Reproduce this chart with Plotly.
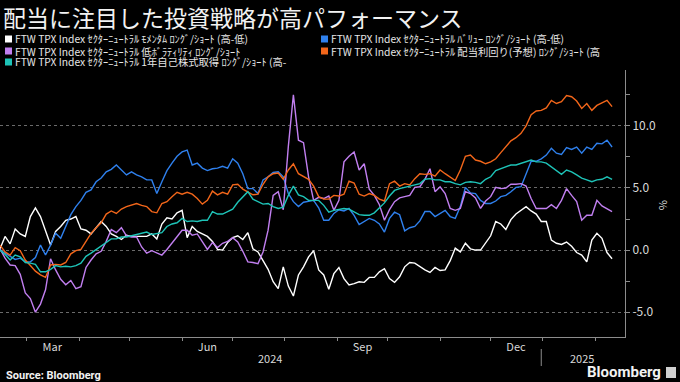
import plotly.graph_objects as go
import pandas as pd

# ---- data (values in %, sampled every 3 days from 2024-02-14) ----
start_date = "2024-02-14"
n_points = 122

momentum = [
    0.1, 1.1, 0.5, 1.7, 1.3, 1.1, 2.7, 3.4, 2.7, 1.6,
    0.4, 1.5, 1.9, 2.4, 2.5, 2.7, 1.7, 1.6, 1.3, 1.8,
    2.3, 1.9, 1.3, 1.1, 0.85, 1.2, 1.1, 1.1, 1.1, 1.1,
    1.3, 0.9, 2.1, 2.6, 2.5, 3.0, 3.2, 1.0, 1.9, 1.5,
    1.3, 1.1, 0.7, 0.05, 0.0, 0.6, 1.0, 1.15, 0.85, 1.4,
    0.1, -0.15, -0.85, -1.55, -2.55, -3.1, -1.35, -2.9, -3.7, -2.0,
    -1.35, -0.55, -0.05, -1.6, -2.0, -3.15, -1.9, -1.4, -2.3, -2.8,
    -2.7, -2.55, -2.6, -2.2, -2.2, -1.75, -1.5, -2.3, -2.6, -2.15,
    -1.35, -1.0, -1.05, -1.35, -1.6, -1.8, -1.4, -1.65, -1.6, -0.85,
    0.15, -0.15, 0.55, 0.1, 0.0, 0.0, 0.6, 1.15, 2.3, 2.1,
    1.65, 2.45, 2.9, 3.2, 3.5, 3.15, 2.9, 2.3, 2.3, 0.8,
    0.55, 0.45, 0.65, 0.3, -0.2, -0.4, -0.95, 0.8, 1.35, 0.95,
    -0.2, -0.7,
]

value = [
    0.0, -0.25, -0.55, -0.75, -0.65, -0.95, -0.95, -0.6, 0.4, -0.4,
    0.4, 1.35, 0.95, 1.9, 2.85, 3.5, 4.0, 4.65, 4.85, 5.5,
    5.8, 6.3, 6.5, 6.85, 6.45, 6.05, 6.3, 6.05, 5.9, 5.65,
    5.65, 4.55, 5.5, 6.4, 7.0, 7.55, 7.9, 8.05, 6.85, 7.0,
    6.6, 6.4, 6.55, 6.6, 6.75, 6.6, 7.35, 7.0, 6.15, 4.95,
    4.95, 4.55, 5.65, 5.9, 6.25, 6.3, 5.9, 4.55, 3.9, 3.5,
    3.85, 3.9, 4.0, 3.4, 2.4, 2.4, 2.95, 3.25, 3.15, 3.35,
    2.8, 2.05, 2.3, 2.55, 2.4, 2.1, 1.45, 2.55, 3.05, 2.85,
    1.55, 1.8, 1.9, 2.35, 3.1, 3.1, 2.7, 2.95, 3.2, 2.7,
    2.55, 3.5, 5.05, 4.6, 4.55, 4.0, 3.75, 3.75, 3.95, 4.3,
    4.4, 4.7, 5.05, 5.1, 6.15, 7.15, 7.15, 7.35, 7.65, 8.2,
    7.8, 7.7, 8.25, 8.1, 8.3, 7.8, 8.3, 8.1, 8.6, 8.55,
    8.85, 8.3,
]

low_vol = [
    0.1, -0.65, -1.2, -1.25, -1.95, -3.45, -3.9, -5.0, -4.35, -3.2,
    -0.7, -1.6, -2.35, -2.8, -2.45, -3.1, -2.95, -1.4, -0.8, -0.3,
    -0.1, 0.7, 1.65, 1.4, 1.8, 1.15, 1.05, 1.05, 0.25, -0.25,
    -0.05, -0.25, -0.4, 0.05, 0.55, 1.1, 1.6, 1.6, 1.2, 1.3,
    0.65, 0.05, 0.6, 0.2, 0.55, 0.7, 1.0, 0.65, -0.1, -0.95,
    -1.0, -1.1, -0.15, 1.6, 4.4, 4.7, 3.25, 8.35, 12.5, 8.85,
    8.65, 5.9, 4.0, 4.25, 4.15, 4.35, 3.2, 4.0, 7.1, 7.55,
    7.9, 6.45, 6.95, 4.9, 4.4, 3.65, 2.4, 3.25, 3.9, 4.2,
    4.3, 4.4, 5.05, 5.1, 5.7, 6.55, 4.7, 5.1, 4.55, 3.35,
    3.2, 3.35, 4.7, 4.55, 4.2, 3.35, 3.95, 4.3, 5.05, 4.95,
    5.0, 5.3, 5.3, 5.35, 5.15, 4.15, 3.35, 3.35, 3.35, 3.65,
    3.35, 4.0, 4.95, 4.4, 3.9, 2.4, 2.8, 2.8, 4.0, 3.55,
    3.35, 3.1,
]

dividend = [
    0.4, -0.15, -0.4, 0.2, -0.05, -0.8, -1.25, -1.7, -2.0, -2.2,
    -1.2, -1.15, -1.2, -1.0, -0.3, -0.05, 0.05, 0.7, 1.35, 1.8,
    2.2, 2.9, 3.15, 2.95, 3.3, 3.5, 3.65, 3.75, 3.6, 3.5,
    3.1, 3.0, 3.75, 3.9, 4.3, 4.65, 4.5, 4.65, 4.5, 4.15,
    3.7, 4.0, 4.75, 4.45, 4.65, 4.5, 5.25, 5.3, 4.9, 4.65,
    4.45, 4.5, 5.3, 5.9, 6.15, 6.2, 5.7, 6.45, 6.95, 6.15,
    5.9, 5.7, 5.15, 4.3, 4.1, 4.1, 4.4, 4.35, 4.5, 5.55,
    5.4, 4.5, 4.35, 4.55, 4.4, 4.1, 3.95, 5.35, 5.55, 5.15,
    5.35, 5.25, 5.75, 6.15, 6.1, 6.15, 5.95, 6.45, 6.15, 5.9,
    5.6, 6.45, 7.55, 7.65, 7.25, 7.15, 6.95, 7.1, 7.35, 7.85,
    8.35, 8.8, 9.05, 9.4, 10.0, 10.9, 11.2, 11.25, 11.45, 12.05,
    11.8, 11.95, 12.45, 12.35, 12.0, 11.4, 11.8, 11.25, 11.65, 11.85,
    12.05, 11.55,
]

buyback = [
    0.0, -0.35, -0.8, -0.4, -0.55, -1.0, -1.05, -1.15, -1.75, -1.75,
    -1.55, -1.25, -1.35, -1.3, -1.35, -1.25, -1.05, -0.5, -0.25, 0.05,
    0.3, 0.65, 0.9, 0.9, 1.05, 1.05, 1.15, 1.3, 1.35, 1.45,
    1.25, 1.35, 1.4, 1.9, 2.1, 2.2, 2.55, 2.3, 2.35, 2.3,
    2.4, 2.4, 3.1, 2.9, 2.9, 3.1, 3.3, 3.85, 4.25, 4.7,
    4.1, 3.9, 3.7, 3.75, 3.5, 3.35, 3.45, 4.4, 5.15, 4.45,
    4.3, 4.0, 4.0, 4.0, 3.6, 3.05, 3.2, 3.25, 3.35, 3.3,
    3.05, 2.85, 2.8, 2.8, 3.0, 3.4, 3.8, 4.35, 4.8, 4.95,
    5.05, 5.1, 5.25, 5.35, 5.7, 5.75, 5.65, 5.65, 5.5, 5.5,
    5.35, 5.25, 5.45, 5.5, 5.45, 5.35, 5.7, 5.9, 6.4, 6.55,
    6.65, 6.85, 6.85, 7.0, 7.1, 7.25, 7.1, 7.1, 7.0, 6.7,
    6.35, 6.1, 6.45, 6.3, 6.05, 5.8, 5.65, 5.5, 5.65, 5.7,
    5.9, 5.7,
]

series_names = [
    "FTW TPX Index ｾｸﾀｰﾆｭｰﾄﾗﾙ ﾓﾒﾝﾀﾑ ﾛﾝｸﾞ/ｼｮｰﾄ (高-低)",
    "FTW TPX Index ｾｸﾀｰﾆｭｰﾄﾗﾙ ﾊﾞﾘｭｰ ﾛﾝｸﾞ/ｼｮｰﾄ (高-低)",
    "FTW TPX Index ｾｸﾀｰﾆｭｰﾄﾗﾙ 低ﾎﾞﾗﾃｨﾘﾃｨ ﾛﾝｸﾞ/ｼｮｰﾄ",
    "FTW TPX Index ｾｸﾀｰﾆｭｰﾄﾗﾙ 配当利回り(予想) ﾛﾝｸﾞ/ｼｮｰﾄ (高",
    "FTW TPX Index ｾｸﾀｰﾆｭｰﾄﾗﾙ 1年自己株式取得 ﾛﾝｸﾞ/ｼｮｰﾄ (高-",
]
series_values = [momentum, value, low_vol, dividend, buyback]
series_colors = ["#ffffff", "#2f80ed", "#c17ff0", "#f2661a", "#1ec4b8"]

month_labels = ["Mar", "Jun", "Sep", "Dec"]
month_label_dates = ["2024-03-16", "2024-06-16", "2024-09-16", "2024-12-16"]
year_labels = ["2024", "2025"]
year_label_dates = ["2024-07-23", "2025-01-24"]
y_tick_vals = [-5, 0, 5, 10]
y_tick_text = ["-5.0", "0.0", "5.0", "10.0"]

title_text = "配当に注目した投資戦略が高パフォーマンス"
source_text = "Source: Bloomberg"

# ---- figure ----
dates = pd.date_range(start_date, periods=n_points, freq="3D")
FONT = "Noto Sans CJK JP"
W, H = 680, 382
ML, MR, MT, MB = 0, 55, 70, 45
PW, PH = W - ML - MR, H - MT - MB


def px(xp):
    return (xp - ML) / PW


def py(yp):
    return (H - MB - yp) / PH


fig = go.Figure()
for name, vals, color in zip(series_names, series_values, series_colors):
    fig.add_trace(go.Scatter(
        x=dates, y=vals, mode="lines", name=name, showlegend=False,
        line=dict(color=color, width=1.4),
    ))

month_starts = pd.date_range("2024-03-01", "2025-02-01", freq="MS")

fig.update_layout(
    width=W, height=H,
    margin=dict(l=ML, r=MR, t=MT, b=MB),
    paper_bgcolor="#000000", plot_bgcolor="#000000",
    font=dict(family=FONT, color="#e6e6e6"),
    xaxis=dict(
        type="date",
        range=["2024-02-14", "2025-02-18 16:00"],
        tickmode="array", tickvals=month_label_dates, ticktext=month_labels,
        ticks="", showgrid=False, zeroline=False,
        showline=True, linecolor="#8c8c8c", linewidth=1,
        tickfont=dict(size=11, color="#d9d9d9", family=FONT),
        minor=dict(tickmode="array", tickvals=list(month_starts), ticks="outside",
                   ticklen=3, tickcolor="#8c8c8c", showgrid=False),
    ),
    yaxis=dict(
        side="right", range=[-7.0, 14.5],
        tickmode="array", tickvals=y_tick_vals, ticktext=y_tick_text,
        ticks="outside", ticklen=4, tickcolor="#8c8c8c",
        showline=True, linecolor="#8c8c8c", linewidth=1,
        showgrid=True, gridcolor="#6a6a6a", griddash="dot", gridwidth=1,
        zeroline=False,
        tickfont=dict(size=12, color="#d9d9d9", family=FONT),
        minor=dict(dtick=2.5, tick0=0, ticks="outside", ticklen=4,
                   tickcolor="#8c8c8c", showgrid=False),
    ),
)

annotations = []
shapes = []

# title
annotations.append(dict(
    text=title_text, xref="paper", yref="paper", x=px(1), y=py(17),
    xanchor="left", yanchor="middle", showarrow=False,
    font=dict(size=23, color="#f2f2f2", family=FONT),
))

# legend (squares + labels)
legend_pos = [(5, 39), (321, 39), (5, 51), (321, 51), (5, 62)]
for (lx, ly), name, color in zip(legend_pos, series_names, series_colors):
    shapes.append(dict(
        type="rect", xref="paper", yref="paper",
        x0=px(lx), x1=px(lx + 7), y0=py(ly + 3.5), y1=py(ly - 3.5),
        fillcolor=color, line=dict(width=0),
    ))
    annotations.append(dict(
        text=name, xref="paper", yref="paper", x=px(lx + 8), y=py(ly),
        xanchor="left", yanchor="middle", showarrow=False,
        font=dict(size=10.3, color="#e6e6e6", family=FONT),
    ))

# year labels and separator
for lbl, d in zip(year_labels, year_label_dates):
    annotations.append(dict(
        text=lbl, xref="x", yref="paper", x=d, y=py(358),
        xanchor="center", yanchor="middle", showarrow=False,
        font=dict(size=11, color="#d9d9d9", family=FONT),
    ))
shapes.append(dict(
    type="line", xref="x", yref="paper", x0="2024-12-31", x1="2024-12-31",
    y0=py(349), y1=py(366), line=dict(color="#8c8c8c", width=1),
))

# y-axis unit
annotations.append(dict(
    text="%", xref="paper", yref="paper", x=px(664), y=py(205),
    xanchor="center", yanchor="middle", showarrow=False, textangle=90,
    font=dict(size=11, color="#d9d9d9", family=FONT),
))

# footer
annotations.append(dict(
    text="<b>" + source_text + "</b>", xref="paper", yref="paper",
    x=px(4), y=py(375), xanchor="left", yanchor="middle", showarrow=False,
    font=dict(size=11, color="#f2f2f2", family="Roboto"),
))
annotations.append(dict(
    text="<b>Bloomberg</b>", xref="paper", yref="paper",
    x=px(663), y=py(372), xanchor="right", yanchor="middle", showarrow=False,
    font=dict(size=15, color="#f2f2f2", family="Roboto"),
))
shapes.append(dict(
    type="rect", xref="paper", yref="paper",
    x0=px(666), x1=px(676), y0=py(378), y1=py(367),
    fillcolor="#d0d0d0", line=dict(width=0),
))

fig.update_layout(annotations=annotations, shapes=shapes)
fig.write_html(
    "out.html",
    config={"displayModeBar": False},
    post_script="document.body.style.margin='0';document.body.style.background='#000';",
)
